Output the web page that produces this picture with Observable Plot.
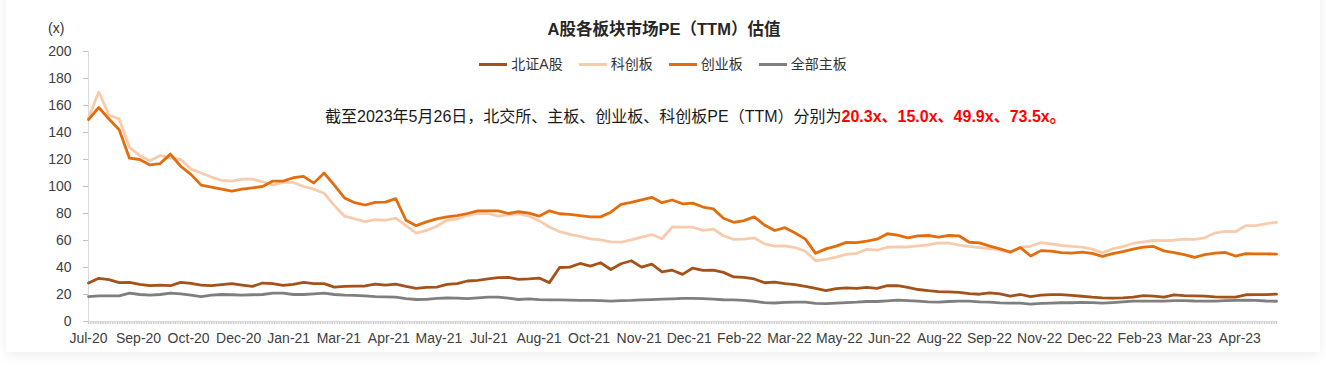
<!DOCTYPE html>
<html><head><meta charset="utf-8">
<script src="https://cdn.jsdelivr.net/npm/d3@7"></script>
<script src="https://cdn.jsdelivr.net/npm/@observablehq/plot@0.6"></script>
<style>
body{margin:0;background:#fff;font-family:"Liberation Sans",Arial,"Noto Sans CJK SC",sans-serif;}
#wrap{position:relative;width:1326px;height:386px;overflow:hidden;background:#fff;}
#card{position:absolute;left:6px;top:-20px;width:1314px;height:372px;background:#fff;box-shadow:0 3px 12px rgba(0,0,0,0.07);}
#chart{position:absolute;left:0;top:0;}
#title{position:absolute;left:0;width:1328px;top:19px;text-align:center;font-weight:bold;font-size:16.5px;color:#262626;line-height:20px;}
#unit{position:absolute;left:48px;top:20px;font-size:14px;color:#333;line-height:16px;}
#legend{position:absolute;top:55px;left:0;width:1326px;display:flex;justify-content:center;font-size:14px;color:#333;line-height:18px;}
.item{display:flex;align-items:center;margin:0 8px;}
.sw{width:28px;height:3px;margin-right:4px;}
#note{position:absolute;left:325px;top:107px;font-size:16px;color:#1a1a1a;line-height:20px;white-space:nowrap;}
#note b{color:#f00;}
</style></head>
<body><div id="wrap">
<div id="card"></div>
<div id="chart"></div>
<div id="unit">(x)</div>
<div id="title">A股各板块市场PE（TTM）估值</div>
<div id="legend"></div>
<div id="note"></div>
</div>
<script>
// Tick labels of the trading-day category axis
const xLabels = ["Jul-20","Sep-20","Oct-20","Dec-20","Jan-21","Mar-21","Apr-21","May-21","Jul-21","Aug-21","Oct-21","Nov-21","Dec-21","Feb-22","Mar-22","May-22","Jun-22","Aug-22","Sep-22","Nov-22","Dec-22","Feb-23","Mar-23","Apr-23"];
const labelEvery = 4.888;   // samples between axis labels
const yTicks = [0,20,40,60,80,100,120,140,160,180,200];

// Series, one value per sample (about every 6 trading days)
const bz = [ // 北证A股
28.5,32,31,28.8,29,27.5,26.5,27,26.5,29,
28.3,27,26.5,27.3,28,27,26,28.5,28,26.7,
27.5,29,28,28,25.5,26,26.2,26.3,27.7,27,
27.7,26,24.5,25.3,25.5,27.5,28,30,30.5,31.5,
32.5,32.6,31.2,31.6,32.2,28.8,40,40.3,43,41,
43.5,38.5,42.8,45,40.3,42.5,36.8,38,34.9,39.6,
37.8,38.1,36.4,33,32.7,31.5,28.7,29.1,28,27.3,
26.1,24.5,22.8,24.3,24.9,24.5,25.3,24.5,26.5,26.5,
25.2,23.7,22.8,22.2,22,21.5,20.7,20.2,21.2,20.5,
18.8,20,18.5,19.5,19.9,19.9,19.4,18.7,18,17.5,
17.3,17.5,18,19.2,18.8,18,19.8,19.1,19,18.8,
18.2,18,18,19.8,19.9,19.9,20.3];
const kcb = [ // 科创板
151,170,153,150,129,123,119,123,121,120,
113,110,107,104.5,104,105.5,105.5,103.5,101,103,
103,100,98,95,86,78,76,74,75.5,75,
76.5,71,65.5,67.5,70.5,75,76,78.7,80,80,
78,79,79.8,78,74.7,70,66.5,64.5,63,61.2,
60.5,59,58.8,60.5,62.5,64.4,61.3,70,69.9,69.9,
67.5,68.5,63.5,60.8,61,62,57.5,55.8,56,54.8,
52,45,46,47.7,49.8,50.5,53.5,52.8,55,55.3,
55.2,56,56.8,58.3,58.1,56.6,55.6,54.8,54,52.8,
51,55.1,55.7,58.5,57.5,56.3,55.6,55.1,53.6,50.8,
53.8,55.5,57.8,59,60,59.9,60.2,61,60.8,62,
65.5,66.8,66.5,71,71,72.5,73.5];
const cyb = [ // 创业板
149.5,158.5,150,142,121,120,116,117,124,115,
109,101,99.5,98,96.5,98,99,100,104,104,
106.5,107.5,102.5,110,101,91.5,88,86.3,88.2,88.4,
91,75,71,73.8,76,77.5,78.5,80,82,82,
82,80,81.3,80.3,78,82,79.8,79.3,78.5,77.5,
77.5,81,86.8,88.3,90.1,92,88,90,87.2,87.7,
84.8,83.4,76.5,73.5,74.7,77.5,71.5,67.4,69.5,65.5,
61,50.5,53.8,55.8,58.6,58.5,59.5,61,65,64,
62,63.4,63.7,62.5,63.7,63.5,58.7,58.2,55.8,53.8,
51.5,54.7,48.5,52.5,52.1,51,50.6,51.4,50.5,48.3,
50.3,51.7,53.6,55.1,55.6,52.3,51,49.6,47.5,49.6,
50.7,51.1,48.5,50.2,50.1,50.1,49.9];
const zb = [ // 全部主板
18.5,19,19,19,21,20,19.6,20,21,20.5,
19.5,18.5,19.6,20,19.8,19.6,19.8,20,21,21,
20,20,20.5,21,20,19.5,19.3,19,18.5,18.3,
18,17,16.3,16.4,17.2,17.4,17.3,17,17.5,18,
18,17.3,16.3,16.8,16.2,16,16,15.8,15.6,15.6,
15.4,15.1,15.4,15.6,16,16.2,16.5,16.8,17.2,17.2,
16.9,16.5,16.1,16,15.6,15,14,13.7,14.2,14.3,
14.3,13.5,13.3,13.6,14,14.3,14.8,14.8,15.3,15.9,
15.5,15.1,14.6,14.3,14.8,15.1,15.1,14.6,14.3,13.8,
13.6,13.6,12.9,13.4,13.6,13.9,13.9,14.1,14,13.6,
14,14.5,15.1,15.1,15.1,15.1,15.4,15.5,15.2,15.1,
15.1,15.4,15.6,15.9,15.6,15.2,15.0];

const seriesNames = ["北证A股","科创板","创业板","全部主板"];
const seriesColors = ["#A5521A","#F8CBAD","#E46C0A","#7F7F7F"];
const seriesValues = [bz, kcb, cyb, zb];

const rows = seriesValues.flatMap((vals, s) => vals.map((v, i) => ({i, v, s: seriesNames[s]})));
const n = cyb.length;
const labelPos = xLabels.map((_, k) => k * labelEvery);
const minor = d3.range(0, n - 1 + 1e-6, 1/6);

const chart = Plot.plot({
  width: 1326, height: 386,
  marginLeft: 88, marginRight: 50, marginTop: 51, marginBottom: 65,
  style: {fontFamily: '"Liberation Sans",Arial,"Noto Sans CJK SC",sans-serif', background: "transparent"},
  x: {domain: [0, n - 1], axis: null},
  y: {domain: [0, 200], axis: null},
  color: {domain: seriesNames, range: seriesColors},
  marks: [
    Plot.ruleX([0], {y1: 0, y2: 200, stroke: "#d9d9d9"}),
    Plot.axisY(yTicks, {tickSize: 5, tickPadding: 12, fontSize: 14, stroke: "#bfbfbf", fill: "#404040", label: null}),
    Plot.axisX(minor, {tickSize: 3, stroke: "#c8c8c8", tickFormat: () => "", label: null}),
    Plot.ruleY([0], {stroke: "#d9d9d9"}),
    Plot.axisX(labelPos, {tickSize: 0, tickPadding: 12, fontSize: 14, fill: "#404040", tickFormat: (d, k) => xLabels[k], label: null}),
    Plot.line(rows, {x: "i", y: "v", z: "s", stroke: "s", strokeWidth: 2.8, strokeLinejoin: "round"})
  ]
});
document.getElementById("chart").appendChild(chart);

// legend
const leg = document.getElementById("legend");
seriesNames.forEach((name, s) => {
  const it = document.createElement("div"); it.className = "item";
  it.innerHTML = `<span class="sw" style="background:${seriesColors[s]}"></span><span>${name}</span>`;
  leg.appendChild(it);
});
// note with latest values: 北交所、主板、创业板、科创板
const last = a => a[a.length - 1].toFixed(1) + "x";
document.getElementById("note").innerHTML =
  `截至2023年5月26日，北交所、主板、创业板、科创板PE（TTM）分别为<b>${[bz, zb, cyb, kcb].map(last).join("、")}。</b>`;
</script>
</body></html>
